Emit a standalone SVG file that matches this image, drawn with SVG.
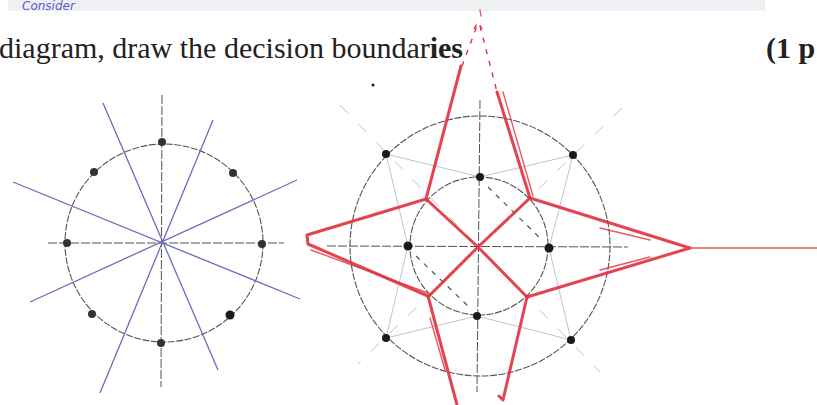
<svg xmlns="http://www.w3.org/2000/svg" width="817" height="405" viewBox="0 0 817 405">
<style>
.txt{font-family:"Liberation Serif","Times New Roman",serif;font-size:30px;fill:#222}
.b{font-weight:bold}
.hand{font-family:"DejaVu Sans",sans-serif;font-style:italic;font-size:12px;fill:#5a5ac8}
.circ{fill:none;stroke:#555;stroke-width:1.1;stroke-dasharray:7 1.5}
.axis{stroke:#555;stroke-width:1;stroke-dasharray:9 2}
.blue{stroke:#6b6bbf;stroke-width:1.3;fill:none}
.dot{fill:#333}
.dotk{fill:#1a1a1a}
.faint{stroke:#b8bcc8;stroke-width:0.9;fill:none}
.dash{stroke:#555;stroke-width:1.2;stroke-dasharray:5 6;fill:none}
.red{stroke:#e0303e;stroke-width:3;fill:none;stroke-linecap:round;stroke-linejoin:round;opacity:0.9}
.red2{stroke:#e0303e;stroke-width:1.4;fill:none;stroke-linecap:round;opacity:0.8}
.reddash{stroke:#e0303e;stroke-width:1.4;fill:none;stroke-dasharray:5 7}
</style>
<rect width="817" height="405" fill="#ffffff"/>
<g id="header">
<rect x="8" y="0" width="757" height="11" fill="#eef0f4"/>
<text class="hand" x="22" y="10">Consider</text>
<text class="txt" x="-1" y="58">diagram, draw the decision boundar<tspan class="b">ies</tspan></text>
<text class="txt b" x="766" y="58">(1 p</text>
</g>
<g id="left-figure">
<circle class="circ" cx="164" cy="243" r="99"/>
<line class="axis" x1="162" y1="95" x2="161" y2="387"/>
<line class="axis" x1="48" y1="243" x2="284" y2="243"/>
<line class="blue" x1="103" y1="103" x2="218" y2="370"/>
<line class="blue" x1="213" y1="120" x2="100" y2="393"/>
<line class="blue" x1="13" y1="182" x2="300" y2="299"/>
<line class="blue" x1="297" y1="180" x2="30" y2="302"/>
<circle class="dot" cx="162" cy="142" r="4"/>
<circle class="dot" cx="161" cy="343" r="4"/>
<circle class="dot" cx="67" cy="243" r="4"/>
<circle class="dot" cx="262" cy="244" r="4"/>
<circle class="dot" cx="94" cy="172" r="4"/>
<circle class="dot" cx="233" cy="173" r="4"/>
<circle class="dot" cx="92" cy="314" r="4"/>
<circle class="dotk" cx="230" cy="315" r="4.5"/>
</g>
<g id="right-figure">
<line class="faint" x1="340" y1="105" x2="600" y2="372" stroke-dasharray="12 14"/>
<line class="faint" x1="622" y1="108" x2="358" y2="364" stroke-dasharray="12 14"/>
<line class="faint" x1="386" y1="154" x2="480" y2="177"/>
<line class="faint" x1="573" y1="155" x2="480" y2="177"/>
<line class="faint" x1="573" y1="155" x2="549" y2="248"/>
<line class="faint" x1="571" y1="340" x2="549" y2="248"/>
<line class="faint" x1="571" y1="340" x2="477" y2="316"/>
<line class="faint" x1="386" y1="338" x2="477" y2="316"/>
<line class="faint" x1="386" y1="338" x2="408" y2="246"/>
<line class="faint" x1="386" y1="154" x2="408" y2="246"/>
<circle class="circ" cx="480" cy="246" r="130"/>
<circle class="circ" cx="479" cy="246" r="69"/>
<line class="axis" x1="480" y1="100" x2="477" y2="392"/>
<line class="axis" x1="327" y1="246" x2="628" y2="247"/>
<line class="dash" x1="488" y1="187" x2="540" y2="238"/>
<line class="dash" x1="416" y1="256" x2="468" y2="306"/>
<circle class="dotk" cx="480" cy="177" r="4"/>
<circle class="dotk" cx="477" cy="316" r="4"/>
<circle class="dotk" cx="408" cy="246" r="4.5"/>
<circle class="dotk" cx="549" cy="248" r="4.5"/>
<circle class="dotk" cx="386" cy="154" r="4"/>
<circle class="dotk" cx="573" cy="155" r="4"/>
<circle class="dotk" cx="386" cy="338" r="4"/>
<circle class="dotk" cx="571" cy="340" r="4"/>
<circle class="dotk" cx="373" cy="85" r="1.5"/>
</g>
<g id="boundaries">
<path class="red" d="M426,199 L478,247 L530,198 M478,247 L429,296 M478,247 L527,297"/>
<path class="red" d="M461,66 L426,199 L307,235 L308,244 L428,296 L457,405"/>
<path class="red" d="M497,92 L530,198 L690,248 L527,297 L503,400 L499,396"/>
<path class="red2" d="M503,92 L533,196"/>
<path class="red2" d="M311,250 L428,293"/>
<path class="red2" d="M430,318 L445,370"/>
<path class="red2" d="M690,248 L817,248"/>
<path class="red2" d="M600,228 L650,240" stroke-width="3"/>
<path class="red2" d="M600,270 L650,257" stroke-width="3"/>
<path class="reddash" d="M462,66 L477,26 M474,29 L478,22 L482,29 M480,26 L497,92"/>
<path class="red2" d="M480,10 L481,16"/>
</g>
</svg>
